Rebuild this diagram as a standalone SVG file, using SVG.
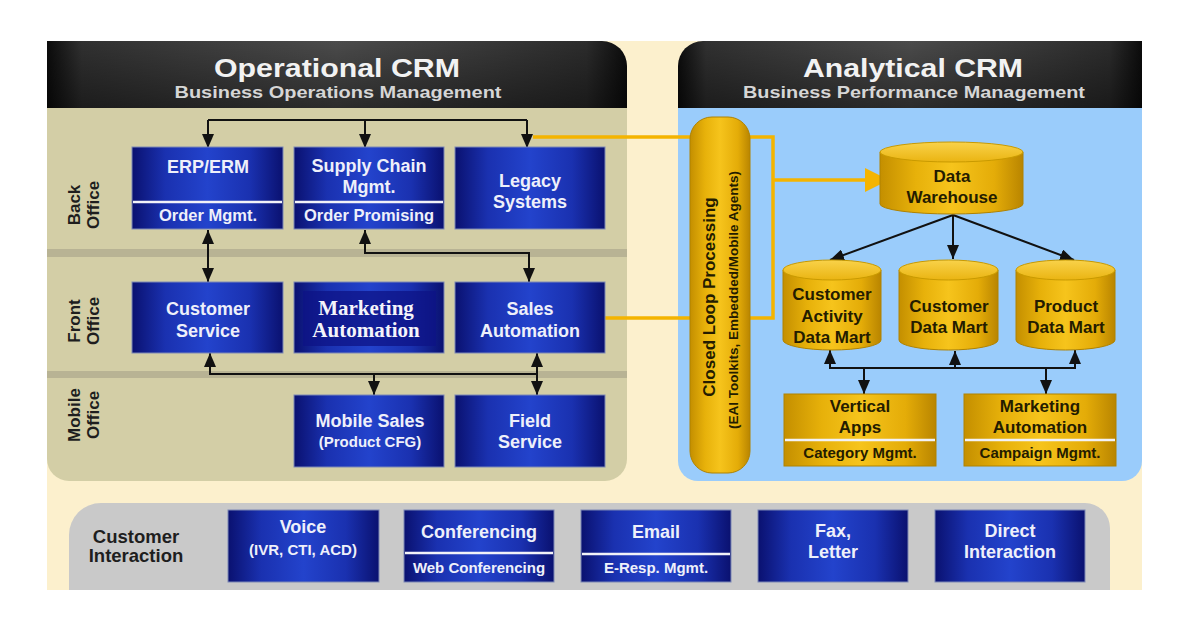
<svg xmlns="http://www.w3.org/2000/svg" width="1182" height="617" viewBox="0 0 1182 617">
<defs>
<linearGradient id="gHead" x1="0" y1="0" x2="1" y2="0">
<stop offset="0" stop-color="#0c0c0c"/><stop offset="0.06" stop-color="#333"/><stop offset="0.5" stop-color="#4f4f4f"/><stop offset="0.93" stop-color="#2e2e2e"/><stop offset="1" stop-color="#0c0c0c"/>
</linearGradient>
<linearGradient id="gHeadV" x1="0" y1="0" x2="0" y2="1">
<stop offset="0" stop-color="#000" stop-opacity="0.05"/><stop offset="1" stop-color="#000" stop-opacity="0.45"/>
</linearGradient>
<linearGradient id="gBlue" x1="0" y1="0" x2="1" y2="0">
<stop offset="0" stop-color="#0a1170"/><stop offset="0.22" stop-color="#1a31b0"/><stop offset="0.5" stop-color="#2343cc"/><stop offset="0.78" stop-color="#1a31b0"/><stop offset="1" stop-color="#0a1170"/>
</linearGradient>
<linearGradient id="gGold" x1="0" y1="0" x2="1" y2="0">
<stop offset="0" stop-color="#c48f00"/><stop offset="0.25" stop-color="#e7b10a"/><stop offset="0.5" stop-color="#f6c41c"/><stop offset="0.8" stop-color="#e4ac08"/><stop offset="1" stop-color="#b98500"/>
</linearGradient>
<linearGradient id="gGoldTop" x1="0" y1="0" x2="0" y2="1">
<stop offset="0" stop-color="#f9d24a"/><stop offset="1" stop-color="#eab412"/>
</linearGradient>
<marker id="ah" viewBox="0 0 14 12" refX="14" refY="6" markerWidth="14" markerHeight="12" markerUnits="userSpaceOnUse" orient="auto-start-reverse">
<path d="M0,0 L14,6 L0,12 Z" fill="#111"/>
</marker>
<marker id="ahY" viewBox="0 0 24 24" refX="24" refY="12" markerWidth="24" markerHeight="24" markerUnits="userSpaceOnUse" orient="auto">
<path d="M0,0 L24,12 L0,24 Z" fill="#f4b400"/>
</marker>
<style>
text{font-family:"Liberation Sans",Arial,sans-serif;font-weight:bold}
.hd{font-size:25px;fill:#f2f2f2;text-anchor:middle}
.sh{font-size:17px;fill:#d6d6d6;text-anchor:middle}
.bw{font-size:18px;fill:#eef0fa;text-anchor:middle}
.bs{font-size:15px;fill:#eef0fa;text-anchor:middle}
.bo{font-size:16.5px;fill:#eef0fa;text-anchor:middle}
.ser{font-family:"Liberation Serif","Times New Roman",serif;font-size:21px;fill:#f4f4fa;text-anchor:middle}
.rl{font-size:17px;fill:#1e1e1e;text-anchor:middle}
.gd{font-size:17px;fill:#241c00;text-anchor:middle}
.gs{font-size:15px;fill:#241c00;text-anchor:middle}
.cl{font-size:17px;fill:#241c00;text-anchor:middle}
.cs{font-size:13.5px;fill:#241c00;text-anchor:middle}
.ci{font-size:18.5px;fill:#1e1e1e;text-anchor:middle}
.box{fill:url(#gBlue);stroke:#7d88b6;stroke-width:1}
.gbox{fill:url(#gGold);stroke:#b08200;stroke-width:1}
.cyl{fill:url(#gGold);stroke:#b08200;stroke-width:1}
.cylt{fill:url(#gGoldTop);stroke:#c99a00;stroke-width:1}
.div{stroke:#f2f2f8;stroke-width:2.5}
.con{fill:none;stroke:#111;stroke-width:2}
.ycon{fill:none;stroke:#f4b400;stroke-width:3.5}
</style>
</defs>

<rect width="1182" height="617" fill="#ffffff"/>
<rect x="47" y="41" width="1095" height="549" fill="#fcf0cd"/>

<g id="operational-panel">
<path d="M47,108 H627 V459 A22,22 0 0 1 605,481 H69 A22,22 0 0 1 47,459 Z" fill="#d3cea6"/>
<rect x="47" y="249" width="580" height="8" fill="#b8b394"/>
<rect x="47" y="371" width="580" height="7" fill="#b8b394"/>
<path d="M47,41 H602 A25,25 0 0 1 627,66 V108 H47 Z" fill="url(#gHead)"/>
<path d="M47,41 H602 A25,25 0 0 1 627,66 V108 H47 Z" fill="url(#gHeadV)"/>
<text class="hd" x="337" y="77" textLength="246" lengthAdjust="spacingAndGlyphs">Operational CRM</text>
<text class="sh" x="338" y="98" textLength="327" lengthAdjust="spacingAndGlyphs">Business Operations Management</text>
<text class="rl" transform="translate(80,205) rotate(-90)">Back</text>
<text class="rl" transform="translate(99,205) rotate(-90)">Office</text>
<text class="rl" transform="translate(80,321) rotate(-90)">Front</text>
<text class="rl" transform="translate(99,321) rotate(-90)">Office</text>
<text class="rl" transform="translate(80,415) rotate(-90)">Mobile</text>
<text class="rl" transform="translate(99,415) rotate(-90)">Office</text>
</g>

<g id="analytical-panel">
<path d="M678,108 H1142 V461 A20,20 0 0 1 1122,481 H698 A20,20 0 0 1 678,461 Z" fill="#9accfb"/>
<path d="M703,41 H1142 V108 H678 V66 A25,25 0 0 1 703,41 Z" fill="url(#gHead)"/>
<path d="M703,41 H1142 V108 H678 V66 A25,25 0 0 1 703,41 Z" fill="url(#gHeadV)"/>
<text class="hd" x="913" y="77" textLength="220" lengthAdjust="spacingAndGlyphs">Analytical CRM</text>
<text class="sh" x="914" y="98" textLength="342" lengthAdjust="spacingAndGlyphs">Business Performance Management</text>
</g>

<g id="interaction-bar">
<path d="M101,503 H1085 A25,25 0 0 1 1110,528 V590 H69 V535 A32,32 0 0 1 101,503 Z" fill="#c9c9c9"/>
<text class="ci" x="136" y="543">Customer</text>
<text class="ci" x="136" y="562">Interaction</text>
</g>

<g id="connectors">
<path class="con" d="M208,120 H527"/>
<path class="con" d="M208,120 V148" marker-end="url(#ah)"/>
<path class="con" d="M365,120 V148" marker-end="url(#ah)"/>
<path class="con" d="M527,120 V148" marker-end="url(#ah)"/>
<path class="con" d="M208,230 V282" marker-start="url(#ah)" marker-end="url(#ah)"/>
<path class="con" d="M365,230 V253 H529 V282" marker-start="url(#ah)" marker-end="url(#ah)"/>
<path class="con" d="M210,353 V374 H537" marker-start="url(#ah)"/>
<path class="con" d="M374,374 V395" marker-end="url(#ah)"/>
<path class="con" d="M537,353 V395" marker-start="url(#ah)" marker-end="url(#ah)"/>
<path class="con" d="M953,215 L830,260" marker-end="url(#ah)"/>
<path class="con" d="M953,215 V259" marker-end="url(#ah)"/>
<path class="con" d="M953,215 L1074,260" marker-end="url(#ah)"/>
<path class="con" d="M830,350 V368 H1075 V350" marker-start="url(#ah)" marker-end="url(#ah)"/>
<path class="con" d="M955,368 V351" marker-end="url(#ah)"/>
<path class="con" d="M864,368 V394" marker-end="url(#ah)"/>
<path class="con" d="M1046,368 V394" marker-end="url(#ah)"/>
<path class="ycon" d="M533,137 H773 V318 H605"/>
<path class="ycon" d="M773,180 H889" marker-end="url(#ahY)"/>
</g>

<g id="erp-erm">
<rect class="box" x="132" y="147" width="151" height="82"/>
<line class="div" x1="133" y1="202" x2="282" y2="202"/>
<text class="bw" x="208" y="173">ERP/ERM</text>
<text class="bo" x="208" y="221">Order Mgmt.</text>
</g>
<g id="supply-chain">
<rect class="box" x="294" y="147" width="150" height="82"/>
<line class="div" x1="295" y1="202" x2="443" y2="202"/>
<text class="bw" x="369" y="172">Supply Chain</text>
<text class="bw" x="369" y="193">Mgmt.</text>
<text class="bo" x="369" y="221">Order Promising</text>
</g>
<g id="legacy-systems">
<rect class="box" x="455" y="147" width="150" height="82"/>
<text class="bw" x="530" y="187">Legacy</text>
<text class="bw" x="530" y="208">Systems</text>
</g>
<g id="customer-service">
<rect class="box" x="132" y="282" width="151" height="71"/>
<text class="bw" x="208" y="315">Customer</text>
<text class="bw" x="208" y="337">Service</text>
</g>
<g id="marketing-automation-front">
<rect class="box" x="294" y="282" width="150" height="71"/>
<rect x="303" y="291" width="133" height="55" fill="#0d1385" opacity="0.75"/>
<text class="ser" x="366" y="315">Marketing</text>
<text class="ser" x="366" y="337">Automation</text>
</g>
<g id="sales-automation">
<rect class="box" x="455" y="282" width="150" height="71"/>
<text class="bw" x="530" y="315">Sales</text>
<text class="bw" x="530" y="337">Automation</text>
</g>
<g id="mobile-sales">
<rect class="box" x="294" y="395" width="150" height="72"/>
<text class="bw" x="370" y="427">Mobile Sales</text>
<text class="bs" x="370" y="447">(Product CFG)</text>
</g>
<g id="field-service">
<rect class="box" x="455" y="395" width="150" height="72"/>
<text class="bw" x="530" y="427">Field</text>
<text class="bw" x="530" y="448">Service</text>
</g>

<g id="closed-loop-processing">
<rect x="690" y="117" width="60" height="356" rx="22" ry="22" fill="url(#gGold)" stroke="#b08200" stroke-width="1"/>
<text class="cl" transform="translate(715,297) rotate(-90)">Closed Loop Processing</text>
<text class="cs" transform="translate(738,300) rotate(-90)">(EAI Toolkits, Embedded/Mobile Agents)</text>
</g>

<g id="data-warehouse">
<path class="cyl" d="M880,152 V204 A71.5,10 0 0 0 1023,204 V152 Z"/>
<ellipse class="cylt" cx="951.5" cy="152" rx="71.5" ry="10"/>
<text class="gd" x="952" y="182">Data</text>
<text class="gd" x="952" y="203">Warehouse</text>
</g>
<g id="customer-activity-data-mart">
<path class="cyl" d="M783,270 V340 A49,10 0 0 0 881,340 V270 Z"/>
<ellipse class="cylt" cx="832" cy="270" rx="49" ry="10"/>
<text class="gd" x="832" y="300">Customer</text>
<text class="gd" x="832" y="322">Activity</text>
<text class="gd" x="832" y="343">Data Mart</text>
</g>
<g id="customer-data-mart">
<path class="cyl" d="M899,270 V340 A49.5,10 0 0 0 998,340 V270 Z"/>
<ellipse class="cylt" cx="948.5" cy="270" rx="49.5" ry="10"/>
<text class="gd" x="949" y="312">Customer</text>
<text class="gd" x="949" y="333">Data Mart</text>
</g>
<g id="product-data-mart">
<path class="cyl" d="M1016,270 V340 A49.5,10 0 0 0 1115,340 V270 Z"/>
<ellipse class="cylt" cx="1065.5" cy="270" rx="49.5" ry="10"/>
<text class="gd" x="1066" y="312">Product</text>
<text class="gd" x="1066" y="333">Data Mart</text>
</g>
<g id="vertical-apps">
<rect class="gbox" x="784" y="394" width="152" height="72"/>
<line class="div" x1="785" y1="440" x2="935" y2="440"/>
<text class="gd" x="860" y="412">Vertical</text>
<text class="gd" x="860" y="433">Apps</text>
<text class="gs" x="860" y="458">Category Mgmt.</text>
</g>
<g id="marketing-automation-analytical">
<rect class="gbox" x="964" y="394" width="152" height="72"/>
<line class="div" x1="965" y1="440" x2="1115" y2="440"/>
<text class="gd" x="1040" y="412">Marketing</text>
<text class="gd" x="1040" y="433">Automation</text>
<text class="gs" x="1040" y="458">Campaign Mgmt.</text>
</g>

<g id="voice">
<rect class="box" x="228" y="510" width="151" height="72"/>
<text class="bw" x="303" y="533">Voice</text>
<text class="bs" x="303" y="555">(IVR, CTI, ACD)</text>
</g>
<g id="conferencing">
<rect class="box" x="404" y="510" width="150" height="72"/>
<line class="div" x1="405" y1="553" x2="553" y2="553"/>
<text class="bw" x="479" y="538">Conferencing</text>
<text class="bs" x="479" y="573">Web Conferencing</text>
</g>
<g id="email">
<rect class="box" x="581" y="510" width="150" height="72"/>
<line class="div" x1="582" y1="554" x2="730" y2="554"/>
<text class="bw" x="656" y="538">Email</text>
<text class="bs" x="656" y="573">E-Resp. Mgmt.</text>
</g>
<g id="fax-letter">
<rect class="box" x="758" y="510" width="150" height="72"/>
<text class="bw" x="833" y="537">Fax,</text>
<text class="bw" x="833" y="558">Letter</text>
</g>
<g id="direct-interaction">
<rect class="box" x="935" y="510" width="150" height="72"/>
<text class="bw" x="1010" y="537">Direct</text>
<text class="bw" x="1010" y="558">Interaction</text>
</g>
</svg>
